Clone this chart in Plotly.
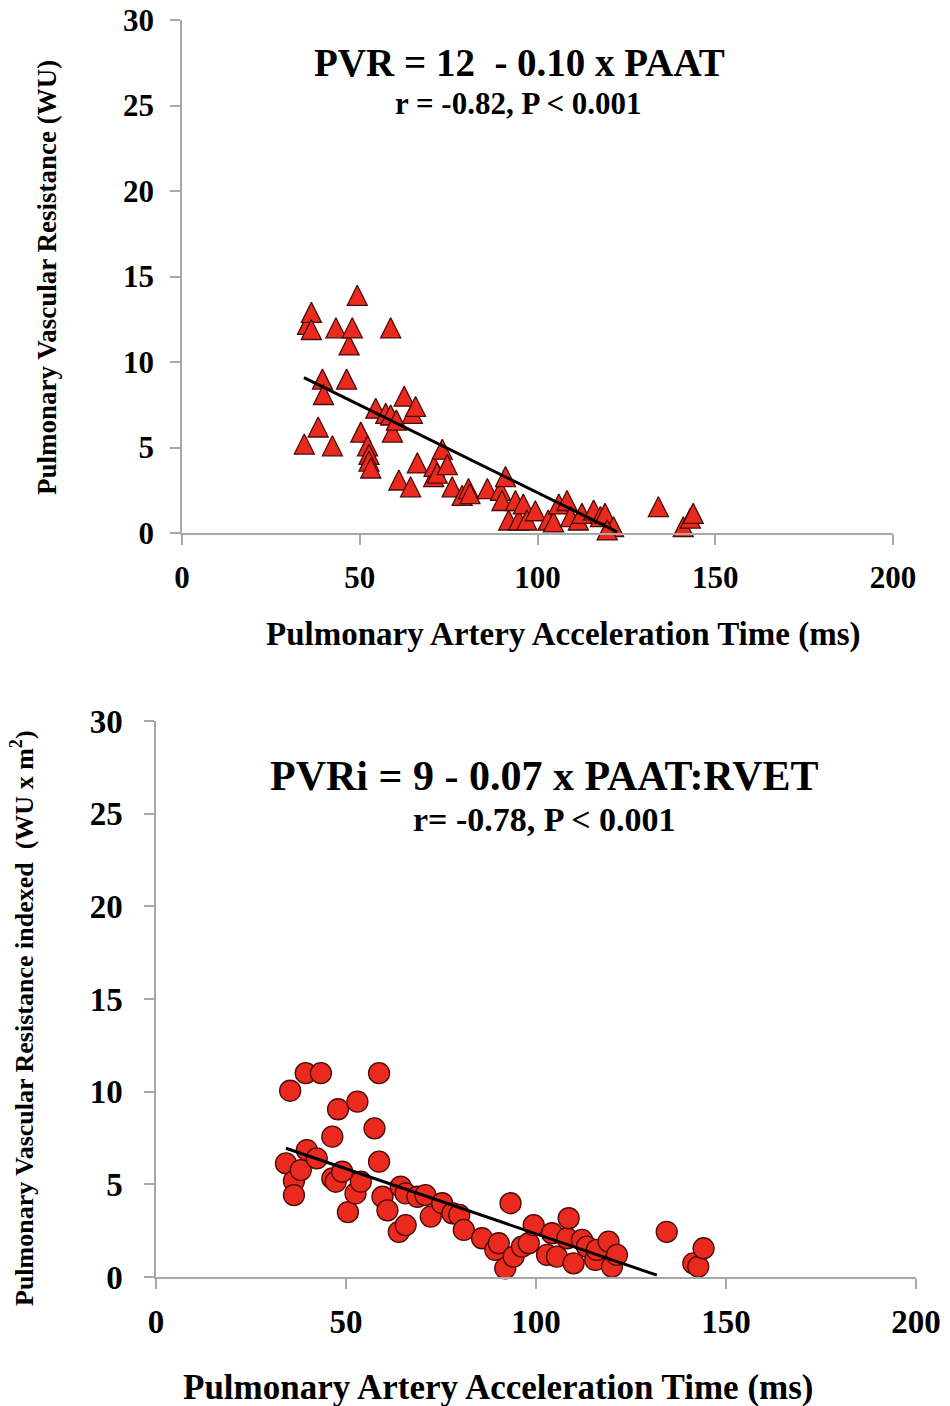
import plotly.graph_objects as go

# ---------------- data ----------------
paat_top = [34.4, 35.3, 36.4, 36.4, 38.3, 39.5, 39.8, 42.3, 43.3, 46.3, 47.0, 47.9, 49.3, 50.3,
            52.2, 52.6, 52.6, 53.1, 54.5, 57.3, 58.7, 58.7, 59.2, 60.3, 61.0, 62.5, 64.3, 64.8,
            65.7, 66.2, 70.8, 70.9, 71.8, 73.2, 74.6, 76.0, 78.8, 80.6, 81.0, 85.9, 89.6, 91.0,
            90.0, 91.9, 93.8, 94.7, 96.0, 97.0, 99.4, 103.0, 104.5, 106.0, 108.3, 109.3, 111.5,
            112.5, 115.8, 117.7, 119.0, 121.4, 119.6, 134.0, 141.0, 143.0, 143.8]
pvr_top = [5.2, 12.2, 12.9, 11.9, 6.2, 9.0, 8.1, 5.1, 12.0, 9.0, 11.0, 12.0, 13.9, 5.9,
           5.1, 4.6, 4.2, 3.8, 7.3, 7.0, 12.0, 6.9, 5.9, 6.6, 3.1, 8.0, 2.7, 7.0,
           7.4, 4.1, 3.3, 3.9, 3.5, 4.9, 4.0, 2.7, 2.2, 2.6, 2.3, 2.6, 2.5, 3.3,
           1.9, 0.76, 1.9, 0.76, 1.7, 0.76, 1.3, 0.76, 0.65, 1.7, 1.9, 0.96, 0.76,
           1.15, 1.35, 0.96, 1.15, 0.37, 0.18, 1.54, 0.37, 0.87, 1.15]

paat_bot = [34.2, 35.3, 36.3, 36.3, 38.1, 39.4, 39.7, 42.3, 43.4, 46.4, 46.4, 47.3, 47.9, 49.0,
            50.5, 52.5, 53.0, 53.9, 57.5, 58.7, 58.7, 59.6, 60.9, 63.9, 64.4, 65.7, 65.7, 68.8,
            70.9, 72.3, 75.3, 78.0, 79.8, 81.0, 85.8, 89.3, 90.2, 91.9, 93.3, 94.1, 96.3, 98.1,
            99.4, 102.9, 104.2, 105.5, 108.2, 108.6, 109.9, 112.1, 113.4, 115.6, 116.0, 119.1,
            120.0, 121.3, 134.4, 141.4, 142.7, 144.1]
pvri_bot = [6.13, 10.05, 5.18, 4.42, 5.77, 11.0, 6.85, 6.4, 11.0, 7.57, 5.32, 5.14, 9.05, 5.68,
            3.5, 4.51, 9.46, 5.14, 8.02, 11.0, 6.22, 4.33, 3.6, 2.44, 4.87, 4.51, 2.8, 4.33,
            4.42, 3.26, 3.98, 3.44, 3.35, 2.54, 2.09, 1.46, 1.82, 0.47, 3.98, 1.1, 1.64, 1.82,
            2.8, 1.19, 2.36, 1.1, 2.09, 3.17, 0.74, 2.0, 1.64, 0.92, 1.46, 1.91,
            0.56, 1.19, 2.44, 0.74, 0.56, 1.55]

# regression lines (intercept, slope, x-extent)
fit_top = dict(intercept=12.6, slope=-0.1024, x=[34.3, 122.4])
fit_bot = dict(intercept=9.35, slope=-0.0702, x=[34.2, 131.8])

x_ticks = [0, 50, 100, 150, 200]
y_ticks = [0, 5, 10, 15, 20, 25, 30]

eq_top = "PVR = 12 \u00a0- 0.10 x PAAT"
stat_top = "r = -0.82, P < 0.001"
eq_bot = "PVRi = 9 - 0.07 x PAAT:RVET"
stat_bot = "r= -0.78, P < 0.001"
xtitle = "Pulmonary Artery Acceleration Time (ms)"
ytitle_top = "Pulmonary Vascular Resistance (WU)"
ytitle_bot = "Pulmonary Vascular Resistance indexed \u00a0(WU x m<sup>2</sup>)"

# ---------------- figure ----------------
W, H = 950, 1406
FONT = "Liberation Serif"
RED = "#EA2A1E"
EDGE = "#4A0A05"
AX = "#A8A8A8"


def px_x(p):
    return p / W


def px_y(p):
    return 1 - p / H


fig = go.Figure()

fig.add_trace(go.Scatter(
    x=paat_top, y=pvr_top, mode="markers", xaxis="x", yaxis="y", cliponaxis=False,
    marker=dict(symbol="arrow-down", angle=180, standoff=10, size=20, color=RED,
                line=dict(color=EDGE, width=1.3)),
    showlegend=False))
fig.add_trace(go.Scatter(
    x=fit_top["x"], y=[fit_top["intercept"] + fit_top["slope"] * v for v in fit_top["x"]],
    mode="lines", xaxis="x", yaxis="y", line=dict(color="black", width=3), showlegend=False))

fig.add_trace(go.Scatter(
    x=paat_bot, y=pvri_bot, mode="markers", xaxis="x2", yaxis="y2", cliponaxis=False,
    marker=dict(symbol="circle", size=21, color=RED, line=dict(color=EDGE, width=1.3)),
    showlegend=False))
fig.add_trace(go.Scatter(
    x=fit_bot["x"], y=[fit_bot["intercept"] + fit_bot["slope"] * v for v in fit_bot["x"]],
    mode="lines", xaxis="x2", yaxis="y2", line=dict(color="black", width=3), showlegend=False))

common = dict(showgrid=False, zeroline=False, showline=True, linecolor=AX, linewidth=1.5,
              ticks="outside", ticklen=10, tickwidth=1.5, tickcolor=AX, automargin=False)

fig.update_layout(
    width=W, height=H, margin=dict(l=0, r=0, t=0, b=0, autoexpand=False),
    paper_bgcolor="white", plot_bgcolor="white",
    font=dict(family=FONT, color="black"),
    xaxis=dict(domain=[px_x(182), px_x(893)], range=[0, 200], tickvals=x_ticks,
               tickfont=dict(family=FONT, size=31, color="black", weight="bold"),
               ticklabelstandoff=6, anchor="y", **common),
    yaxis=dict(domain=[px_y(533), px_y(20)], range=[0, 30], tickvals=y_ticks,
               tickfont=dict(family=FONT, size=31, color="black", weight="bold"),
               ticklabelstandoff=10, anchor="x", **common),
    xaxis2=dict(domain=[px_x(156), px_x(916)], range=[0, 200], tickvals=x_ticks,
                tickfont=dict(family=FONT, size=33, color="black", weight="bold"),
                ticklabelstandoff=5, anchor="y2", **common),
    yaxis2=dict(domain=[px_y(1277), px_y(721)], range=[0, 30], tickvals=y_ticks,
                tickfont=dict(family=FONT, size=33, color="black", weight="bold"),
                ticklabelstandoff=15, anchor="x2", **common),
)


def ann(text, x, y, size, angle=0):
    fig.add_annotation(text="<b>" + text + "</b>", x=px_x(x), y=px_y(y), xref="paper", yref="paper",
                       showarrow=False, textangle=angle, xanchor="center", yanchor="middle",
                       font=dict(family=FONT, size=size, color="black"))


ann(eq_top, 519, 62, 39)
ann(stat_top, 518, 104, 31)
ann(eq_bot, 544, 776, 42)
ann(stat_bot, 544, 819, 34)
ann(xtitle, 563, 634, 33)
ann(xtitle, 498, 1387, 35)
ann(ytitle_top, 47, 278, 27, -90)
ann(ytitle_bot, 22, 1018, 26, -90)

fig.write_html("out.html", config={"displayModeBar": False},
               post_script="document.body.style.margin='0';document.body.style.overflow='hidden';")
